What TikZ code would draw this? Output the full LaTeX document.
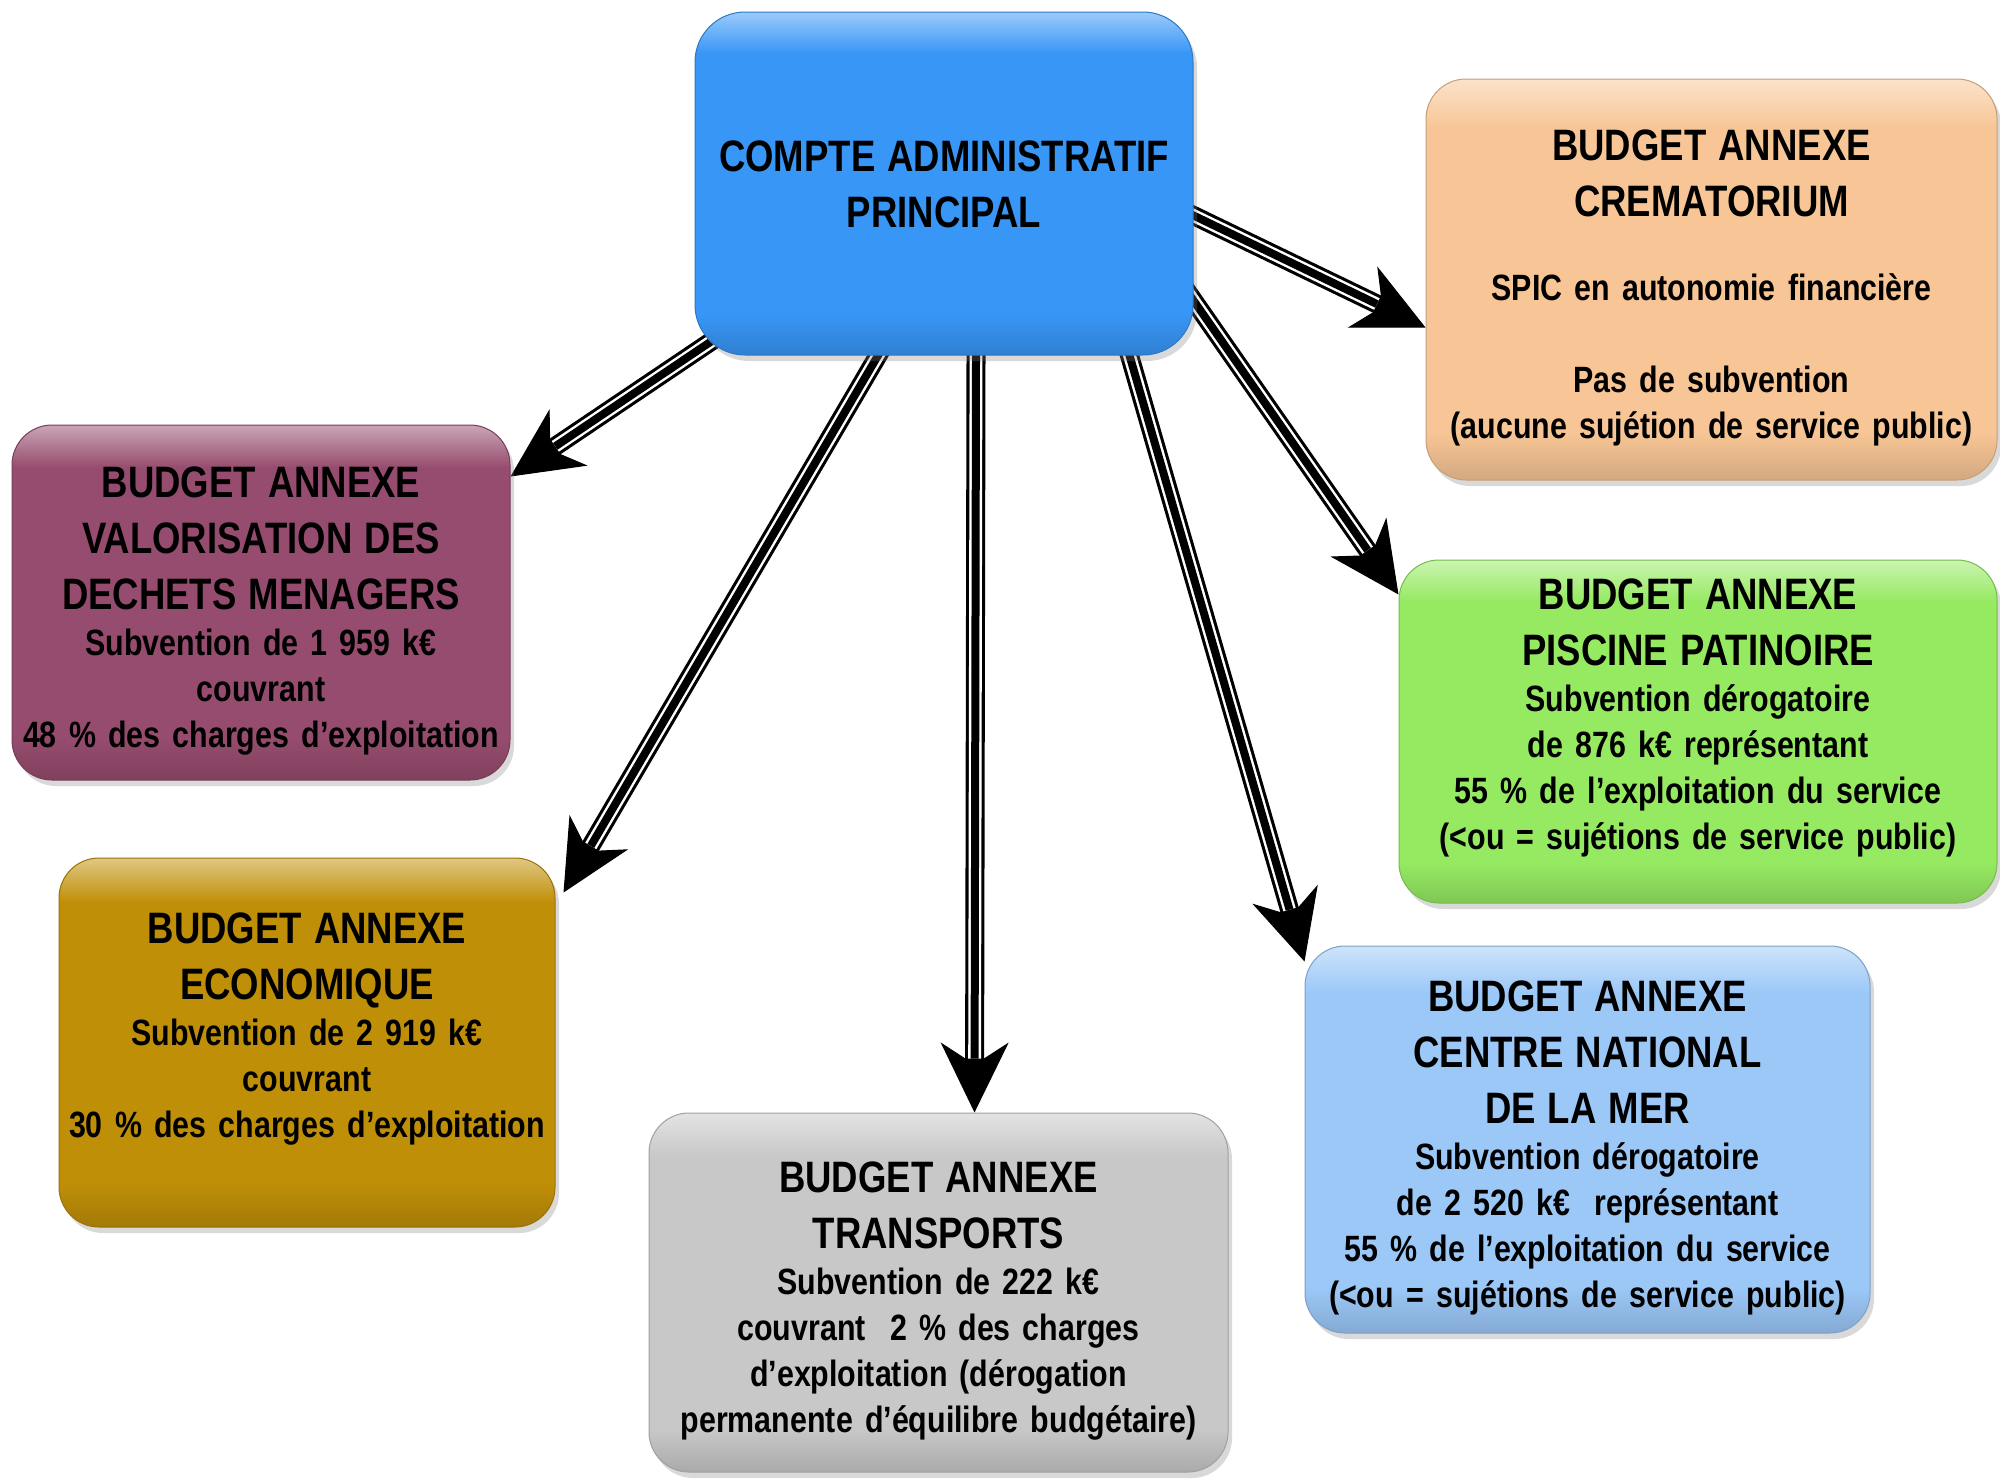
\documentclass[tikz,border=0pt]{standalone}
\usepackage{fontspec}
\setmainfont{Liberation Sans}[FakeStretch=0.83, WordSpace=0.8]
\usepackage{tikz}
\usetikzlibrary{arrows.meta, shadows, backgrounds}

\definecolor{capblue}{HTML}{3896F6}
\definecolor{cremorange}{HTML}{F8C696}
\definecolor{valomauve}{HTML}{964C6E}
\definecolor{ecogold}{HTML}{C08F08}
\definecolor{transgray}{HTML}{C8C8C8}
\definecolor{merblue}{HTML}{9CC8F8}
\definecolor{piscgreen}{HTML}{96EA62}

\newcommand{\ttl}{\fontsize{22}{28}\selectfont}
\newcommand{\bdy}{\fontsize{18.3}{23}\selectfont}

\colorlet{boxc}{white}
\pgfdeclareverticalshading[boxc]{glossy}{100bp}{%
  color(0bp)=(boxc!85!black); color(25bp)=(boxc!85!black);
  color(31bp)=(boxc); color(69bp)=(boxc);
  color(75bp)=(boxc!50!white); color(100bp)=(boxc!50!white)}

\tikzset{
  budget/.style={rectangle, rounded corners=20pt, /utils/exec={\colorlet{boxc}{#1}},
    shade, shading=glossy, draw=#1!80!black, line width=0.5pt,
    drop shadow={shadow xshift=2pt, shadow yshift=-3pt, opacity=0.3},
    align=center, inner sep=0pt, font=\bfseries\bdy, text height=23.5pt},
  tribar/.style={line width=9.5pt, shorten <=-12pt,
    -{Stealth[length=35pt, width=34pt, inset=11pt, line width=0.5pt]},
    postaction={draw=white, arrows=-, line width=1.2pt, double=black,
      double distance=4pt, shorten >=27pt}}
}

\begin{document}
\begin{tikzpicture}[x=0.5pt, y=-0.5pt]
  \useasboundingbox (0,0) rectangle (2000,1478);

  \node[budget=capblue, rounded corners=25pt, minimum width=249pt,
    minimum height=171.5pt, text width=245pt, text height=16pt] (main) at (944,183.5)
    {\ttl COMPTE ADMINISTRATIF\\ PRINCIPAL\par};

  \node[budget=cremorange, minimum width=285.5pt,
    minimum height=200.5pt, text width=282pt] (crem) at (1711.5,279.5)
    {\ttl BUDGET ANNEXE\\ CREMATORIUM\\[19pt] \bdy SPIC en autonomie financière\\[23pt]
     Pas de subvention\\ (aucune sujétion de service public)};

  \node[budget=valomauve, minimum width=249pt,
    minimum height=177.5pt, text width=247pt] (valo) at (261,602.5)
    {\ttl BUDGET ANNEXE\\ VALORISATION DES\\ DECHETS MENAGERS\\ \bdy
     Subvention de 1 959 k€\\ couvrant\\ 48 \% des charges d’exploitation};

  \node[budget=ecogold, minimum width=248pt,
    minimum height=184.5pt, text width=246pt, text height=1.5pt] (eco) at (307,1042.5)
    {\ttl BUDGET ANNEXE\\ ECONOMIQUE\\ \bdy
     Subvention de 2 919 k€\\ couvrant\\ 30 \% des charges d’exploitation};

  \node[budget=transgray, minimum width=289.5pt,
    minimum height=179.5pt, text width=286pt] (trans) at (938.5,1292.5)
    {\ttl BUDGET ANNEXE\\ TRANSPORTS\\ \bdy
     Subvention de 222 k€\\ couvrant\ \ 2 \% des charges\\
     d’exploitation (dérogation\\ permanente d’équilibre budgétaire)};

  \node[budget=merblue, minimum width=282.5pt,
    minimum height=193.5pt, text width=279pt] (mer) at (1587.5,1139.5)
    {\ttl BUDGET ANNEXE\\ CENTRE NATIONAL\\ DE LA MER\\ \bdy
     Subvention dérogatoire\\ de 2 520 k€\ \ représentant\\
     55 \% de l’exploitation du service\\ (<ou = sujétions de service public)};

  \node[budget=piscgreen, minimum width=299pt,
    minimum height=171.5pt, text width=295pt, text height=2pt] (pisc) at (1698,731.5)
    {\ttl BUDGET ANNEXE\\ PISCINE PATINOIRE\\ \bdy
     Subvention dérogatoire\\ de 876 k€ représentant\\
     55 \% de l’exploitation du service\\ (<ou = sujétions de service public)};

  % arrows go under the boxes
  \begin{scope}[on background layer]
    \draw[tribar] ([yshift=-16pt]main.east) -- ([yshift=-24pt]crem.west);
    \draw[tribar] ([yshift=27.5pt]main.south east) -- ([yshift=-17.5pt]pisc.north west);
    \draw[tribar] ([xshift=-32pt]main.south east) -- ([yshift=-8pt]mer.north west);
    \draw[tribar] ([xshift=16pt]main.south) -- ([xshift=18pt]trans.north);
    \draw[tribar] ([xshift=-33pt]main.south) -- ([shift={(4pt,-17.5pt)}]eco.north east);
    \draw[tribar] ([shift={(9pt,7.5pt)}]main.south west) -- ([yshift=-26pt]valo.north east);
  \end{scope}
\end{tikzpicture}
\end{document}
